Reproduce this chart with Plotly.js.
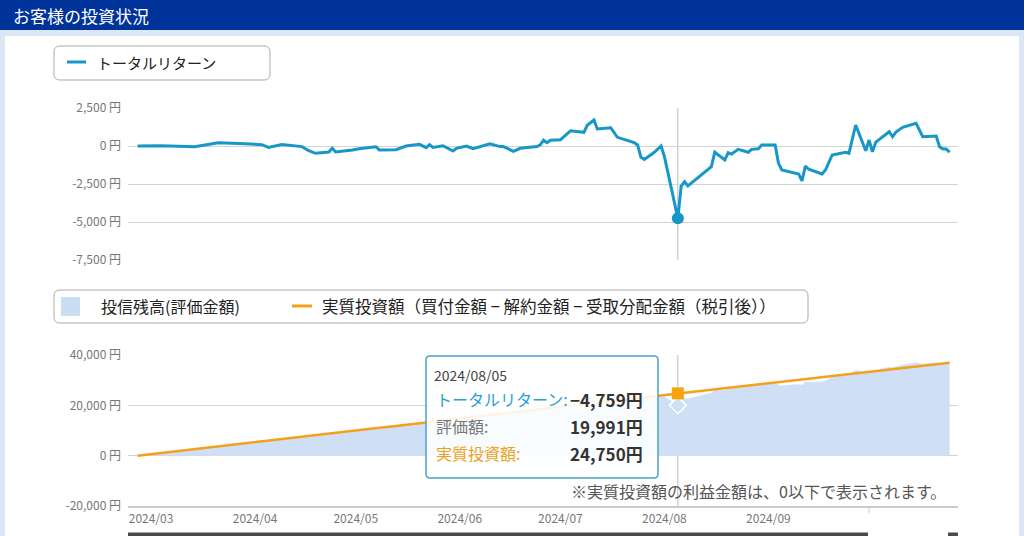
<!DOCTYPE html>
<html>
<head>
<meta charset="utf-8">
<script src="https://cdn.plot.ly/plotly-3.0.1.min.js"></script>
<style>
html,body{margin:0;padding:0;background:#dce7f6;}
#chart{width:1024px;height:536px;}
</style>
</head>
<body>
<div id="chart"></div>
<script>
// ---------------- data ----------------
const dates = [
 '2024-02-26','2024-03-04','2024-03-14','2024-03-21','2024-03-27','2024-04-03','2024-04-05','2024-04-09',
 '2024-04-15','2024-04-17','2024-04-19','2024-04-23','2024-04-24','2024-04-25','2024-04-30','2024-05-02',
 '2024-05-07','2024-05-08','2024-05-13','2024-05-16','2024-05-20','2024-05-22','2024-05-23','2024-05-24',
 '2024-05-27','2024-05-30','2024-05-31','2024-06-03','2024-06-05','2024-06-07','2024-06-10','2024-06-13',
 '2024-06-14','2024-06-17','2024-06-19','2024-06-24','2024-06-25','2024-06-26','2024-06-27','2024-06-28',
 '2024-07-01','2024-07-04','2024-07-08','2024-07-09','2024-07-11','2024-07-12','2024-07-16','2024-07-18',
 '2024-07-23','2024-07-24','2024-07-25','2024-07-26','2024-07-29','2024-07-31','2024-08-01','2024-08-02',
 '2024-08-05','2024-08-06','2024-08-07','2024-08-08','2024-08-15','2024-08-16','2024-08-19','2024-08-20',
 '2024-08-21','2024-08-23','2024-08-26','2024-08-27','2024-08-29','2024-08-30','2024-09-03','2024-09-04',
 '2024-09-05','2024-09-10','2024-09-11','2024-09-12','2024-09-13','2024-09-17','2024-09-18','2024-09-20',
 '2024-09-24','2024-09-25','2024-09-27','2024-09-30','2024-10-01','2024-10-02','2024-10-03','2024-10-07',
 '2024-10-08','2024-10-09','2024-10-11','2024-10-15','2024-10-17','2024-10-21','2024-10-22','2024-10-23',
 '2024-10-24','2024-10-25'
];
const totalReturn = [
 0, 20, -50, 220, 160, 90, -90, 90,
 -40, -310, -480, -400, -150, -390, -260, -180,
 -50, -260, -240, 0, 110, -110, 90, -90,
 20, -330, -150, 0, -180, -40, 150, -40,
 -40, -350, -150, -40, 70, 380, 220, 380,
 410, 1000, 900, 1360, 1710, 1120, 1200, 570,
 220, 70, -740, -880, -410, 0, -700, -1700,
 -4759, -2630, -2350, -2630, -1360, -410, -920, -440,
 -530, -220, -410, -220, -180, 70, 70, -1140,
 -1580, -1840, -2300, -1320, -1530, -1840, -1580, -590,
 -410, -480, 1380, -310, 390, -380, 260, 940,
 610, 920, 1230, 1490, 610, 660, -50, -200,
 -200, -410
];
const investment = [
 0, 1100, 2600, 3700, 4600, 5700, 6000, 6600,
 7500, 7850, 8150, 8750, 8900, 9050, 9850, 10150,
 10900, 11050, 11800, 12300, 12900, 13200, 13350, 13500,
 14000, 14450, 14600, 15050, 15350, 15650, 16150, 16600,
 16750, 17200, 17550, 18300, 18450, 18600, 18750, 18900,
 19400, 19850, 20450, 20600, 20900, 21050, 21700, 22000,
 22750, 22900, 23050, 23200, 23700, 24000, 24150, 24300,
 24750, 24900, 25050, 25200, 26250, 26400, 26850, 27000,
 27150, 27450, 27900, 28050, 28350, 28500, 29100, 29250,
 29400, 30150, 30300, 30450, 30600, 31200, 31350, 31650,
 32250, 32400, 32700, 33150, 33300, 33450, 33600, 34200,
 34350, 34500, 34800, 35400, 35700, 36300, 36450, 36600,
 36750, 36900
];
const focusDate = '2024-08-05';

const monthTicks  = ['2024-03-01','2024-04-01','2024-05-01','2024-06-01','2024-07-01','2024-08-01','2024-09-01','2024-10-01'];
const monthLabels = ['2024/03','2024/04','2024/05','2024/06','2024/07','2024/08','2024/09',''];
const topTickVals = [2500, 0, -2500, -5000, -7500];
const topTickText = ['2,500 円','0 円','-2,500 円','-5,000 円','-7,500 円'];
const botTickVals = [40000, 20000, 0, -20000];
const botTickText = ['40,000 円','20,000 円','0 円','-20,000 円'];

const headerTitle = 'お客様の投資状況';
const nameReturn = 'トータルリターン';
const nameValuation = '投信残高(評価金額)';
const nameInvest = '実質投資額（買付金額 − 解約金額 − 受取分配金額（税引後））';
const tipReturn = 'トータルリターン:';
const tipValuation = '評価額:';
const tipInvest = '実質投資額:';
const noteText = '※実質投資額の利益金額は、0以下で表示されます。';

// ---------------- derived ----------------
const valuation = investment.map((v, i) => v + totalReturn[i]);
const fi = dates.indexOf(focusDate);

// ---------------- styling helpers ----------------
const W = 1024, H = 536;
const X = x => x / W;
const Y = y => 1 - y / H;
const JP = '"Noto Sans CJK JP", "Noto Sans", sans-serif';
const TEAL = '#1796c8';
const ORANGE = '#f5a01a';
const AREA = '#cfe0f6';

function rr(x0, y0, x1, y1, r) {
  const p = (x, y) => X(x) + ',' + Y(y);
  return 'M' + p(x0 + r, y0) + ' L' + p(x1 - r, y0) + ' Q' + p(x1, y0) + ' ' + p(x1, y0 + r) +
    ' L' + p(x1, y1 - r) + ' Q' + p(x1, y1) + ' ' + p(x1 - r, y1) +
    ' L' + p(x0 + r, y1) + ' Q' + p(x0, y1) + ' ' + p(x0, y1 - r) +
    ' L' + p(x0, y0 + r) + ' Q' + p(x0, y0) + ' ' + p(x0 + r, y0) + ' Z';
}
function yen(v) {
  const s = Math.abs(v).toLocaleString('en-US');
  return (v < 0 ? '−' : '') + s + '円';
}

const xRange = ['2024-02-23 03:00', '2024-10-27 12:00'];

const traces = [
  { x: dates, y: totalReturn, type: 'scatter', mode: 'lines', xaxis: 'x', yaxis: 'y',
    line: { color: TEAL, width: 3 }, hoverinfo: 'skip', showlegend: false },
  { x: [dates[fi]], y: [totalReturn[fi]], type: 'scatter', mode: 'markers', xaxis: 'x', yaxis: 'y',
    marker: { color: TEAL, size: 12, symbol: 'circle' }, hoverinfo: 'skip', showlegend: false },
  { x: dates, y: valuation, type: 'scatter', mode: 'lines', xaxis: 'x2', yaxis: 'y2',
    fill: 'tozeroy', fillcolor: AREA, line: { color: AREA, width: 0.5 }, hoverinfo: 'skip', showlegend: false },
  { x: dates, y: investment, type: 'scatter', mode: 'lines', xaxis: 'x2', yaxis: 'y2',
    line: { color: ORANGE, width: 2.5 }, hoverinfo: 'skip', showlegend: false },
  { x: [dates[fi]], y: [valuation[fi]], type: 'scatter', mode: 'markers', xaxis: 'x2', yaxis: 'y2',
    marker: { color: '#cfe0f6', size: 13, symbol: 'diamond', line: { color: '#ffffff', width: 1.5 } },
    hoverinfo: 'skip', showlegend: false },
  { x: [dates[fi]], y: [investment[fi]], type: 'scatter', mode: 'markers', xaxis: 'x2', yaxis: 'y2',
    marker: { color: '#f7a30b', size: 12, symbol: 'square' }, hoverinfo: 'skip', showlegend: false }
];

const tickFont = { family: JP, size: 12, color: '#777' };

const shapes = [
  // white panel
  { type: 'rect', xref: 'paper', yref: 'paper', x0: X(5), x1: X(1019), y0: Y(536), y1: Y(36),
    fillcolor: '#ffffff', line: { width: 0 }, layer: 'below' },
  // header
  { type: 'rect', xref: 'paper', yref: 'paper', x0: 0, x1: 1, y0: Y(30), y1: 1,
    fillcolor: '#003399', line: { width: 0 }, layer: 'below' },
  // top legend box
  { type: 'path', xref: 'paper', yref: 'paper', path: rr(54, 46, 270, 80, 6),
    fillcolor: '#ffffff', line: { color: '#aaaaaa', width: 1 }, layer: 'above' },
  { type: 'line', xref: 'paper', yref: 'paper', x0: X(67), x1: X(86), y0: Y(62), y1: Y(62),
    line: { color: TEAL, width: 3 }, layer: 'above' },
  // bottom legend box
  { type: 'path', xref: 'paper', yref: 'paper', path: rr(54, 290, 808, 323, 6),
    fillcolor: '#ffffff', line: { color: '#aaaaaa', width: 1 }, layer: 'above' },
  { type: 'rect', xref: 'paper', yref: 'paper', x0: X(61), x1: X(80), y0: Y(316), y1: Y(297),
    fillcolor: '#c9ddf4', line: { width: 0 }, layer: 'above' },
  { type: 'line', xref: 'paper', yref: 'paper', x0: X(292), x1: X(312), y0: Y(306), y1: Y(306),
    line: { color: ORANGE, width: 3 }, layer: 'above' },
  // crosshair lines
  { type: 'line', xref: 'x', yref: 'paper', x0: dates[fi], x1: dates[fi], y0: Y(260), y1: Y(108),
    line: { color: '#bbbbbb', width: 1 }, layer: 'below' },
  { type: 'line', xref: 'x2', yref: 'paper', x0: dates[fi], x1: dates[fi], y0: Y(506), y1: Y(355),
    line: { color: '#bbbbbb', width: 1 }, layer: 'below' },
  // unlabeled October tick
  { type: 'line', xref: 'x2', yref: 'paper', x0: monthTicks[7], x1: monthTicks[7], y0: Y(507), y1: Y(513),
    line: { color: '#cccccc', width: 1 }, layer: 'above' },
  // navigator strip
  { type: 'rect', xref: 'paper', yref: 'paper', x0: X(128), x1: X(868), y0: Y(536), y1: Y(532.5),
    fillcolor: '#4a4a4a', line: { width: 0 }, layer: 'above' },
  { type: 'rect', xref: 'paper', yref: 'paper', x0: X(948), x1: X(958), y0: Y(536), y1: Y(532.5),
    fillcolor: '#4a4a4a', line: { width: 0 }, layer: 'above' },
  // tooltip box
  { type: 'path', xref: 'paper', yref: 'paper', path: rr(426, 356, 658, 478, 4),
    fillcolor: 'rgba(255,255,255,0.88)', line: { color: '#4ba3c6', width: 1.5 }, layer: 'above' }
];

function ann(x, y, text, opts) {
  return Object.assign({ xref: 'paper', yref: 'paper', x: X(x), y: Y(y), text: text, showarrow: false,
    xanchor: 'left', yanchor: 'middle', font: { family: JP, size: 15, color: '#222' } }, opts || {});
}

const annotations = [
  ann(11, 15, headerTitle, { font: { family: JP, size: 17, color: '#ffffff' } }),
  ann(95, 62, nameReturn, { font: { family: JP, size: 15, color: '#222' } }),
  ann(99, 306, nameValuation, { font: { family: JP, size: 16, color: '#222' } }),
  ann(320, 306, nameInvest, { font: { family: JP, size: 16.5, color: '#222' } }),
  ann(432, 375, focusDate.replace(/-/g, '/'), { font: { family: JP, size: 14, color: '#444' } }),
  ann(434, 399, tipReturn, { font: { family: JP, size: 16, color: '#2a9fd6' } }),
  ann(645, 399, '<b>' + yen(totalReturn[fi]) + '</b>', { xanchor: 'right', font: { family: JP, size: 17, color: '#333' } }),
  ann(434, 426, tipValuation, { font: { family: JP, size: 16, color: '#777' } }),
  ann(645, 426, '<b>' + yen(valuation[fi]) + '</b>', { xanchor: 'right', font: { family: JP, size: 17, color: '#333' } }),
  ann(434, 453, tipInvest, { font: { family: JP, size: 16, color: '#f0a020' } }),
  ann(645, 453, '<b>' + yen(investment[fi]) + '</b>', { xanchor: 'right', font: { family: JP, size: 17, color: '#333' } }),
  ann(948, 491, noteText, { xanchor: 'right', font: { family: JP, size: 16, color: '#555' } })
];

const layout = {
  width: W, height: H, autosize: false,
  margin: { l: 0, r: 0, t: 0, b: 0, pad: 0 },
  paper_bgcolor: '#dce7f6', plot_bgcolor: 'rgba(0,0,0,0)',
  showlegend: false, hovermode: false,
  xaxis: { domain: [X(128), X(958)], range: xRange, type: 'date', showticklabels: false,
    showgrid: false, zeroline: false, showline: false, ticks: '', fixedrange: true, anchor: 'y' },
  yaxis: { domain: [Y(260), Y(108)], range: [-7500, 2500], tickvals: topTickVals, ticktext: topTickText,
    showgrid: true, gridcolor: '#d3d3d3', gridwidth: 1, zeroline: false, showline: false,
    ticks: '', tickfont: tickFont, ticklabelstandoff: 6, anchor: 'x', fixedrange: true },
  xaxis2: { domain: [X(128), X(958)], range: xRange, type: 'date', tickvals: monthTicks, ticktext: monthLabels,
    showgrid: false, zeroline: false, showline: true, linecolor: '#cccccc', linewidth: 2, ticks: '',
    tickfont: { family: JP, size: 12, color: '#777' }, ticklabelstandoff: 1, anchor: 'y2', fixedrange: true },
  yaxis2: { domain: [Y(506), Y(355)], range: [-20000, 40000], tickvals: botTickVals, ticktext: botTickText,
    showgrid: true, gridcolor: '#d3d3d3', gridwidth: 1, zeroline: false, showline: false,
    ticks: '', tickfont: tickFont, ticklabelstandoff: 6, anchor: 'x2', fixedrange: true },
  shapes: shapes,
  annotations: annotations
};

Plotly.newPlot('chart', traces, layout, { displayModeBar: false, staticPlot: true });
</script>
</body>
</html>
